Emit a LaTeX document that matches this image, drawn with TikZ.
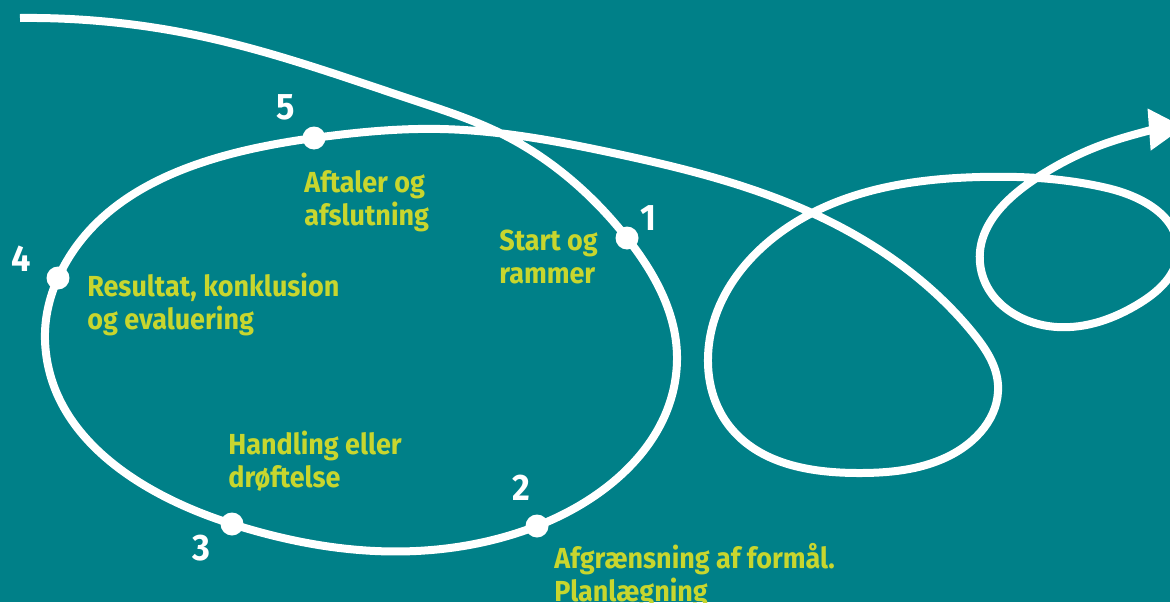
\documentclass[tikz,border=0pt]{standalone}
\usepackage{fontspec}
\setmainfont{Fira Sans}[FakeStretch=0.93]
\usetikzlibrary{arrows.meta, hobby}
\definecolor{bgteal}{RGB}{0,128,136}
\definecolor{txtlime}{RGB}{200,214,46}
\begin{document}
\begin{tikzpicture}[x = 0.02cm, y = -0.02cm,
		lbl/.style = {anchor = north west, inner sep = 0, align = left, text = txtlime, font = \fontsize{16.5}{18.8}\selectfont\bfseries},
		num/.style = {inner sep = 0, text = white, font = \fontsize{21}{21}\selectfont\bfseries},
		road/.style = {draw = white, line width = 0.16cm, -{Triangle[length = 0.7cm, width = 0.8cm]}}]
			\fill[bgteal] (0, 0) rectangle (1170, 602);
			\useasboundingbox (0, 0) rectangle (1170, 602);
			\coordinate (p1) at (627, 238);
			\coordinate (p2) at (537, 526);
			\coordinate (p3) at (232, 524);
			\coordinate (p4) at (58, 278);
			\coordinate (p5) at (314, 138);
			\draw[road, use Hobby shortcut] (20, 18) .. (200, 36) .. (413, 100) .. (500, 133) .. (p1)
				.. (677, 360) .. (p2) .. (375, 551) .. (p3) .. (45, 340) .. (p4)
				.. (p5) .. (440, 129) .. (613, 153) .. (812, 213) .. (973, 333) .. (998, 385)
				.. (947, 457) .. (857, 473) .. (730, 427) .. (708, 363) .. (812, 213) .. (980, 177)
				.. (1107, 188) .. (1178, 252) .. (1140, 303) .. (1057, 327) .. (980, 263)
				.. (1035, 179) .. (1107, 143) .. (1184, 127);
			\foreach \p in {p1, p2, p3, p4, p5}
				\fill[white] (\p) circle (0.23cm);
			\node[num] (n1) at (648, 218) {1};
			\node[num] (n2) at (521, 488) {2};
			\node[num] (n3) at (201, 548) {3};
			\node[num] (n4) at (21, 259) {4};
			\node[num] (n5) at (286, 107) {5};
			\node[lbl] (start) at (499, 230) {Start og\\rammer};
			\node[lbl] (afgr) at (554, 543) {Afgrænsning af formål.\\Planlægning};
			\node[lbl] (handl) at (228, 431) {Handling eller\\drøftelse};
			\node[lbl] (resul) at (87, 273) {Resultat, konklusion\\og evaluering};
			\node[lbl] (aftal) at (304, 170) {Aftaler og\\afslutning};
\end{tikzpicture}
\end{document}
